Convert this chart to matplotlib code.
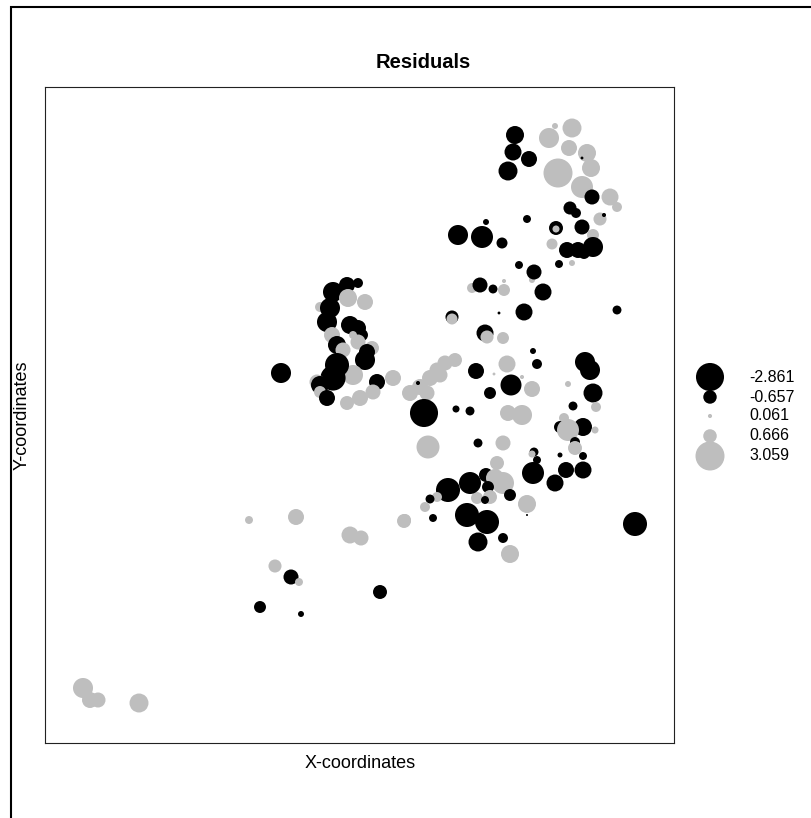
import numpy as np
import matplotlib
matplotlib.use("Agg")
import matplotlib.pyplot as plt
from matplotlib.patches import Rectangle

plt.rcParams['font.family'] = ['Liberation Sans', 'DejaVu Sans']

# координаты точек (условные единицы) и остатки модели
x = [470, 468, 484, 463, 510, 527, 504, 524, 542, 537, 513, 546, 537, 547, 565,
     572, 555, 559, 525, 531, 482, 441, 413, 437, 457, 511, 511, 537, 548, 507,
     522, 533, 548, 539, 514, 527, 474, 487, 489, 498, 427, 435, 448, 459, 459,
     236, 288, 302, 313, 303, 320, 275, 285, 282, 305, 313, 317, 308, 287, 292, 298,
     313, 327, 322, 320, 308, 292, 288, 272, 275, 275, 282, 348, 332, 315, 328, 302,
     365, 375, 382, 385, 395, 392, 400, 410, 373, 379, 407, 407, 454, 479, 572,
     440, 442, 458, 488, 492, 540, 545, 462, 431, 449, 477, 466, 487, 523, 548,
     445, 411, 425, 528, 551, 463, 477, 519, 515, 538, 523, 550, 383, 433, 458,
     530, 530, 515, 538, 489, 487, 492, 521, 538, 488, 510, 452, 441, 450, 458,
     443, 465, 445, 432, 440, 425, 403, 392, 385, 380, 360, 388, 422, 442, 482,
     482, 433, 458, 465, 590,
     204, 251, 305, 316, 359, 230, 246, 254, 335, 215, 256, 38, 45, 53, 94]
y = [608, 591, 584, 572, 617, 615, 605, 595, 590, 585, 570, 575, 556, 546, 546,
     536, 524, 528, 535, 530, 524, 521, 508, 506, 500, 515, 514, 516, 508, 499,
     493, 493, 496, 490, 479, 480, 478, 463, 471, 451, 455, 458, 454, 453, 462,
     370, 451, 458, 460, 445, 441, 436, 435, 421, 418, 415, 408, 408, 408, 398, 393,
     401, 395, 391, 383, 368, 378, 365, 361, 358, 351, 345, 365, 361, 345, 351, 340,
     350, 356, 350, 365, 368, 373, 380, 383, 360, 330, 426, 424, 430, 431, 433,
     410, 406, 405, 392, 379, 381, 373, 379, 372, 369, 366, 358, 354, 359, 350,
     350, 334, 332, 337, 336, 330, 328, 325, 316, 316, 313, 313, 296, 300, 300,
     301, 295, 288, 287, 291, 289, 283, 273, 273, 270, 260, 280, 268, 265, 260,
     256, 248, 246, 245, 243, 260, 253, 246, 244, 236, 223, 225, 228, 221, 239,
     228, 201, 205, 189, 219,
     223, 226, 208, 205, 222, 177, 166, 161, 151, 136, 129, 55, 43, 43, 40]
resid = [-1.18, -1.05, -0.93, -1.31, 0.13, 1.31, 1.46, 0.93, 1.18, -0.03, 3.059, 1.18, 1.76, -0.82, 1.05,
         0.36, 0.62, -0.06, -0.62, -0.36, -0.23, -0.13, -1.46, -1.76, -0.44, -0.71, 0.18, -0.82, 0.52, 0.44,
         -0.93, -0.93, -1.46, -0.52, -0.23, 0.13, -0.23, 0.13, -0.82, -1.05, 0.36, -0.82, -0.29, 0.52, 0.06,
         -1.46, -1.46, -0.93, -0.36, 1.18, 0.93, 0.36, -1.46, -1.46, -1.18, -0.93, -0.52, 0.23, 0.93, -1.18, 0.82,
         0.82, 0.71, -0.93, -1.46, 1.46, -2.10, -2.30, 0.82, -1.18, 0.52, -0.93, 0.93, -0.93, 0.93, 0.82, 0.71,
         0.93, 0.93, 0.82, 0.93, 0.82, 0.82, 0.82, 0.71, -0.06, -2.861, -0.62, 0.44, -0.03, -1.05, -0.29,
         -1.05, 0.62, 0.52, -0.13, -0.36, -1.46, -1.46, 1.05, -0.93, 0.03, 0.06, -1.60, 0.93, 0.13, -1.31,
         -0.52, -0.18, -0.29, -0.29, 0.36, 0.93, 1.46, 0.36, -0.52, -1.18, 1.76, 0.18, 1.92, -0.29, 0.82,
         -0.36, 0.71, -0.09, -0.23, -0.29, 0.18, -0.23, -0.93, -1.05, -1.76, -1.05, 0.71, -0.71, 1.18, 1.76,
         -0.52, -0.52, 0.71, 0.52, -0.23, -1.76, -2.10, 0.36, -0.29, 0.36, 0.52, -0.23, -2.10, -2.10, 1.18,
         -0.015, -1.31, -0.36, 1.18, -2.10,
         0.23, 0.93, 1.05, 0.82, 0.71, 0.62, -0.82, 0.23, -0.71, -0.52, -0.13, 1.46, 0.93, 0.82, 1.31]

legend_vals = [-2.861, -0.657, 0.061, 0.666, 3.059]
legend_labels = ['-2.861', '-0.657', '0.061', '0.666', '3.059']

W, H = 811, 818
max_d = 29.0  # диаметр самого большого кружка, px
z_max = max(abs(v) for v in resid)


def sizes(vals):
    d = max_d * np.sqrt(np.abs(np.asarray(vals)) / z_max)
    return (d * 72.0 / 100.0) ** 2


def colours(vals):
    return ['#000000' if v < 0 else '#BEBEBE' for v in vals]


fig = plt.figure(figsize=(W / 100, H / 100), dpi=100)

# внешняя рамка
fig.patches.append(Rectangle((11 / W, -0.1), 1.2, (H - 7) / H + 0.1,
                             transform=fig.transFigure, fill=False,
                             edgecolor='black', linewidth=1.5))

ax = fig.add_axes([45 / W, (H - 743) / H, 629 / W, 656 / H])
ax.scatter(x, y, s=sizes(resid), c=colours(resid), linewidths=0)
ax.set_xlim(0, 629)
ax.set_ylim(0, 656)
ax.set_xticks([])
ax.set_yticks([])
for sp in ax.spines.values():
    sp.set_linewidth(0.8)
    sp.set_color('#222222')

fig.text(423 / W, 1 - 62 / H, 'Residuals', ha='center', va='center',
         fontsize=14.5, fontweight='bold')
fig.text(360 / W, 1 - 763 / H, 'X-coordinates', ha='center', va='center', fontsize=13)
fig.text(22 / W, 1 - 415 / H, 'Y-coordinates', ha='center', va='center',
         rotation=90, fontsize=13)

# легенда справа
lax = fig.add_axes([0, 0, 1, 1])
lax.set_xlim(0, W)
lax.set_ylim(H, 0)
lax.axis('off')
rows = [377, 397, 416, 436, 456]
lax.scatter([710] * len(legend_vals), rows, s=sizes(legend_vals),
            c=colours(legend_vals), linewidths=0)
for r, lab in zip(rows, legend_labels):
    lax.text(749, r, lab, ha='left', va='center', fontsize=11.5)

fig.savefig('out.png', dpi=100)
